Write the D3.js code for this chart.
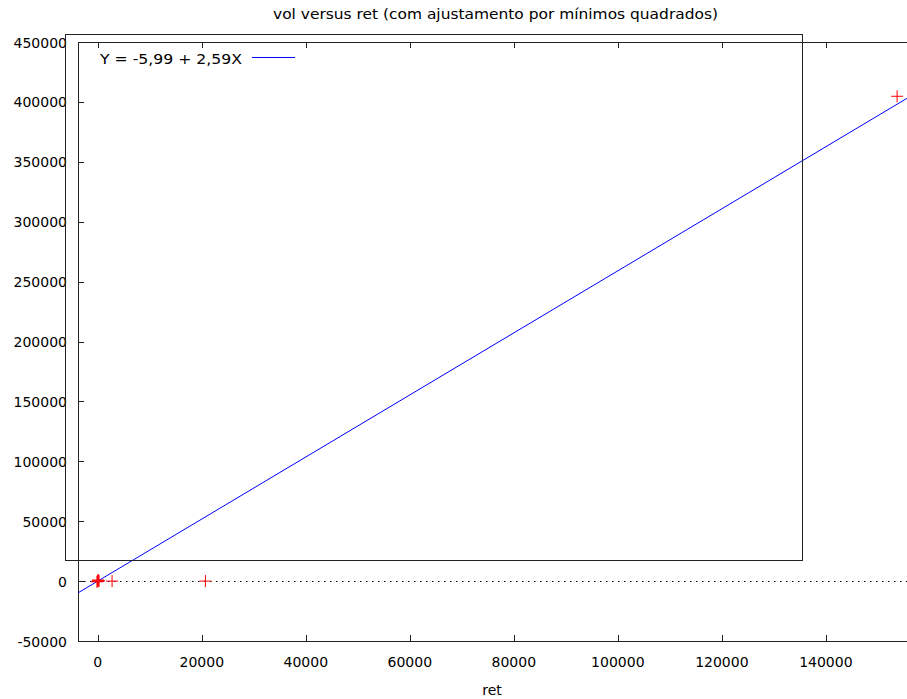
<!DOCTYPE html>
<html>
<head>
<meta charset="utf-8">
<script src="https://cdn.jsdelivr.net/npm/d3@7"></script>
<style>
  body { margin: 0; background: #fff; }
  text { font-family: "DejaVu Sans", sans-serif; fill: #000; }
</style>
</head>
<body>
<svg id="chart" width="907" height="699"></svg>
<script>
// Data
const retValues = [0, 120, -150, 60, 250, -60, 2750, 20700, 153700];
const volValues = [0, 400, -600, 900, 150, -200, 0, 0, 404700];
const xTicks = [0, 20000, 40000, 60000, 80000, 100000, 120000, 140000];
const yTicks = [-50000, 0, 50000, 100000, 150000, 200000, 250000, 300000, 350000, 400000, 450000];
const fitIntercept = -5.99;
const fitSlope = 2.59;
const titleText = "vol versus ret (com ajustamento por mínimos quadrados)";
const xLabel = "ret";
const keyLabel = "Y = -5,99 + 2,59X";

(function () {
const svg = d3.select("#chart");
const pL = 78, pR = 907, pT = 42, pB = 641;
const xDomain = [-3800, 155600];
const yDomain = [-50000, 450000];
const x = d3.scaleLinear().domain(xDomain).range([pL, pR]);
const y = d3.scaleLinear().domain(yDomain).range([pB, pT]);
const fs = 14;

svg.append("defs").append("clipPath").attr("id", "clip")
  .append("rect").attr("x", pL).attr("y", pT).attr("width", pR - pL).attr("height", pB - pT);

// zero line (dotted)
svg.append("line")
  .attr("x1", pL).attr("x2", pR).attr("y1", Math.round(y(0)) + 0.5).attr("y2", Math.round(y(0)) + 0.5)
  .attr("stroke", "#000").attr("stroke-width", 1).attr("stroke-dasharray", "1.5,4.5");

// axes frame
const frame = svg.append("g").attr("stroke", "#222").attr("stroke-width", 1).attr("fill", "none");
frame.append("line").attr("x1", pL + 0.5).attr("x2", pL + 0.5).attr("y1", pT).attr("y2", pB + 0.5);
frame.append("line").attr("x1", pL).attr("x2", pR).attr("y1", pT + 0.5).attr("y2", pT + 0.5);
frame.append("line").attr("x1", pL).attr("x2", pR).attr("y1", pB + 0.5).attr("y2", pB + 0.5);

// x ticks (bottom and mirrored top)
const xt = svg.append("g");
xTicks.forEach(v => {
  const px = Math.round(x(v)) + 0.5;
  xt.append("line").attr("x1", px).attr("x2", px).attr("y1", pB).attr("y2", pB - 6).attr("stroke", "#222");
  xt.append("line").attr("x1", px).attr("x2", px).attr("y1", pT).attr("y2", pT + 6).attr("stroke", "#222");
  xt.append("text").attr("x", x(v)).attr("y", 667).attr("text-anchor", "middle")
    .style("font-size", fs + "px").text(v);
});

// y ticks
const yt = svg.append("g");
yTicks.forEach(v => {
  const py = Math.round(y(v)) + 0.5;
  yt.append("line").attr("x1", pL).attr("x2", pL + 6).attr("y1", py).attr("y2", py).attr("stroke", "#222");
  yt.append("text").attr("x", 67).attr("y", y(v) + 5.5).attr("text-anchor", "end")
    .style("font-size", fs + "px").text(v);
});

// fit line
const plot = svg.append("g").attr("clip-path", "url(#clip)");
const line = d3.line().x(d => x(d)).y(d => y(fitIntercept + fitSlope * d));
plot.append("path").datum(xDomain).attr("d", line)
  .attr("stroke", "#0000ff").attr("stroke-width", 1).attr("fill", "none");

// points (+)
const pts = retValues.map((r, i) => ({ r, v: volValues[i] }));
plot.selectAll("path.pt").data(pts).join("path").attr("class", "pt")
  .attr("d", d => {
    const cx = x(d.r), cy = y(d.v);
    return `M${cx - 6},${cy}H${cx + 6}M${cx},${cy - 6}V${cy + 6}`;
  })
  .attr("stroke", "#ff0000").attr("stroke-width", 1).attr("fill", "none");

// key box
svg.append("rect").attr("x", 65.5).attr("y", 34.5).attr("width", 737).attr("height", 526)
  .attr("fill", "none").attr("stroke", "#222").attr("stroke-width", 1);
svg.append("text").attr("x", 100).attr("y", 64).style("font-size", fs + "px")
  .attr("textLength", 142).attr("lengthAdjust", "spacingAndGlyphs").text(keyLabel);
svg.append("line").attr("x1", 252).attr("x2", 295).attr("y1", 57.5).attr("y2", 57.5)
  .attr("stroke", "#0000ff").attr("stroke-width", 1);

// title and x label
svg.append("text").attr("x", 273).attr("y", 19)
  .style("font-size", "13.5px").attr("textLength", 445).attr("lengthAdjust", "spacingAndGlyphs").text(titleText);
svg.append("text").attr("x", 492).attr("y", 695).attr("text-anchor", "middle")
  .style("font-size", fs + "px").text(xLabel);
})();
</script>
</body>
</html>
